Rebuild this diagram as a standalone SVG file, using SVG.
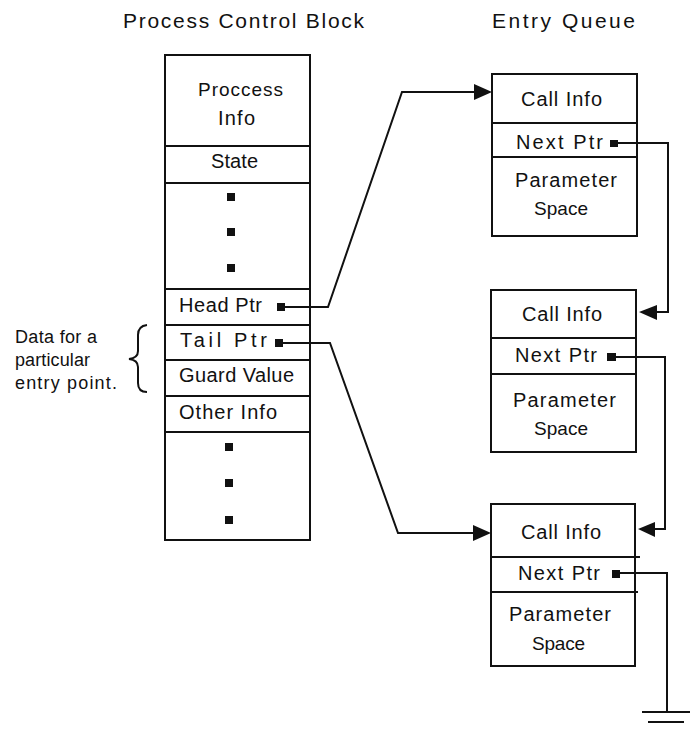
<svg xmlns="http://www.w3.org/2000/svg" width="697" height="730" viewBox="0 0 697 730">
  <style>
    .box { fill: #fff; stroke: #111; stroke-width: 2; }
    .div { stroke: #111; stroke-width: 2; fill: none; }
    .wire { stroke: #111; stroke-width: 2; fill: none; stroke-linejoin: miter; }
    .dot { fill: #111; }
    .head { fill: #111; }
    text { font-family: "Liberation Sans", Arial, sans-serif; fill: #111; font-size: 20px; }
    .title { font-size: 21px; }
    .note { font-size: 18px; }
    .sm { font-size: 19px; }
  </style>

  <!-- headings -->
  <g id="titles">
    <text class="title" x="123" y="28" textLength="241" lengthAdjust="spacing">Process Control Block</text>
    <text class="title" x="492" y="28" textLength="143" lengthAdjust="spacing">Entry Queue</text>
  </g>

  <!-- side note with brace -->
  <g id="note">
    <text class="note" x="15" y="343" textLength="82" lengthAdjust="spacing">Data for a</text>
    <text class="note" x="15" y="366" textLength="75" lengthAdjust="spacing">particular</text>
    <text class="note" x="15" y="389" textLength="102" lengthAdjust="spacing">entry point.</text>
    <path class="wire" stroke-width="3" d="M147,325 Q138,326 138,335 L138,351 Q138,358 129,359 Q138,360 138,367 L138,383 Q138,392 147,392"/>
  </g>

  <!-- process control block -->
  <g id="pcb">
    <rect class="box" x="165" y="55" width="145" height="485"/>
    <line class="div" x1="165" y1="146" x2="310" y2="146"/>
    <line class="div" x1="165" y1="183" x2="310" y2="183"/>
    <line class="div" x1="165" y1="289" x2="310" y2="289"/>
    <line class="div" x1="165" y1="325" x2="310" y2="325"/>
    <line class="div" x1="165" y1="360" x2="310" y2="360"/>
    <line class="div" x1="165" y1="396" x2="310" y2="396"/>
    <line class="div" x1="165" y1="432" x2="310" y2="432"/>
    <text class="sm" x="198" y="96" textLength="85" lengthAdjust="spacing">Proccess</text>
    <text x="218" y="125" textLength="37" lengthAdjust="spacing">Info</text>
    <text x="211" y="168" textLength="47" lengthAdjust="spacing">State</text>
    <rect class="dot" x="227" y="193" width="8" height="8"/>
    <rect class="dot" x="227" y="228" width="8" height="8"/>
    <rect class="dot" x="227" y="264" width="8" height="8"/>
    <text x="179" y="312" textLength="83" lengthAdjust="spacing">Head Ptr</text>
    <text x="180" y="347" textLength="87" lengthAdjust="spacing">Tail Ptr</text>
    <text x="179" y="382" textLength="115" lengthAdjust="spacing">Guard Value</text>
    <text x="179" y="419" textLength="98" lengthAdjust="spacing">Other Info</text>
    <rect class="dot" x="225" y="443" width="8" height="8"/>
    <rect class="dot" x="225" y="479" width="8" height="8"/>
    <rect class="dot" x="225" y="516" width="8" height="8"/>
  </g>

  <!-- entry queue records -->
  <g id="entry1">
    <rect class="box" x="492" y="74" width="145" height="162"/>
    <line class="div" x1="492" y1="123" x2="637" y2="123"/>
    <line class="div" x1="492" y1="157" x2="637" y2="157"/>
    <text x="521" y="106" textLength="81" lengthAdjust="spacing">Call Info</text>
    <text x="516" y="149" textLength="87" lengthAdjust="spacing">Next Ptr</text>
    <text x="515" y="187" textLength="102" lengthAdjust="spacing">Parameter</text>
    <text class="sm" x="534" y="215" textLength="54" lengthAdjust="spacing">Space</text>
  </g>

  <g id="entry2">
    <rect class="box" x="491" y="290" width="145" height="162"/>
    <line class="div" x1="491" y1="338" x2="636" y2="338"/>
    <line class="div" x1="491" y1="374" x2="636" y2="374"/>
    <text x="522" y="321" textLength="80" lengthAdjust="spacing">Call Info</text>
    <text x="515" y="362" textLength="82" lengthAdjust="spacing">Next Ptr</text>
    <text x="513" y="407" textLength="103" lengthAdjust="spacing">Parameter</text>
    <text class="sm" x="534" y="435" textLength="54" lengthAdjust="spacing">Space</text>
  </g>

  <g id="entry3">
    <rect class="box" x="491" y="504" width="144" height="162"/>
    <line class="div" x1="491" y1="557" x2="640" y2="557"/>
    <line class="div" x1="491" y1="592" x2="638" y2="592"/>
    <text x="521" y="539" textLength="80" lengthAdjust="spacing">Call Info</text>
    <text x="518" y="580" textLength="82" lengthAdjust="spacing">Next Ptr</text>
    <text x="509" y="621" textLength="102" lengthAdjust="spacing">Parameter</text>
    <text class="sm" x="532" y="650" textLength="53" lengthAdjust="spacing">Space</text>
  </g>

  <!-- pointers -->
  <g id="connectors">
    <!-- head pointer -->
    <rect class="dot" x="277" y="303" width="8" height="8"/>
    <polyline class="wire" points="285,307 328,307 402,92 476,92"/>
    <polygon class="head" points="474,84 492,92 474,100"/>
    <!-- tail pointer -->
    <rect class="dot" x="275" y="339" width="8" height="8"/>
    <polyline class="wire" points="283,343 330,343 398,533 475,533"/>
    <polygon class="head" points="473,525 491,533 473,541"/>
    <!-- next: entry 1 to entry 2 -->
    <rect class="dot" x="610" y="140" width="8" height="7"/>
    <polyline class="wire" points="618,143 668,143 668,312 655,312"/>
    <polygon class="head" points="657,305 639,312 657,320"/>
    <!-- next: entry 2 to entry 3 -->
    <rect class="dot" x="607" y="353" width="9" height="8"/>
    <polyline class="wire" points="616,357 665,357 665,529 654,529"/>
    <polygon class="head" points="655,522 638,529 655,537"/>
    <!-- next: entry 3 to nil -->
    <rect class="dot" x="612" y="570" width="8" height="8"/>
    <polyline class="wire" points="620,573 667,573 667,712"/>
    <line class="wire" x1="642" y1="712" x2="690" y2="712"/>
    <line class="wire" x1="648" y1="722" x2="684" y2="722"/>
  </g>
</svg>
